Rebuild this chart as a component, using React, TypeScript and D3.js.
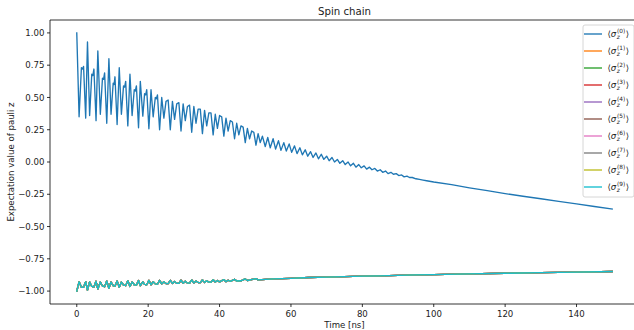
import React from 'react';
import * as d3 from 'd3';

// Time [ns] and <sigma_z^(0)> (extrema and turning points)
const site0Time = [
  0, 0.65, 1.3, 1.6, 1.9, 2.5, 3.0, 3.6, 4.2, 4.5, 4.8, 5.4, 5.9, 6.6, 7.2, 7.5, 7.8, 8.4, 9.0, 9.6,
  10.2, 10.45, 10.7, 11.3, 11.9, 12.5, 13.1, 13.4, 13.7, 14.3, 14.9, 15.5, 16.1, 16.4, 16.7, 17.3, 17.8, 18.5, 19.0, 19.3,
  19.6, 20.2, 20.8, 21.4, 22.0, 22.3, 22.6, 23.2, 23.8, 24.4, 25.0, 25.6, 26.2, 26.8, 27.4, 28.0, 28.6, 29.2, 29.8, 30.4,
  31.0, 31.6, 32.2, 32.8, 33.4, 34.0, 34.6, 35.2, 35.8, 36.4, 37.0, 37.6, 38.2, 38.8, 39.4, 40.0, 40.6, 41.2, 41.8, 42.4,
  43.0, 43.6, 44.2, 44.8, 45.4, 46.0, 46.6, 47.2, 47.8, 48.4, 49.0, 49.6, 50.2, 50.8, 51.4, 52.0, 52.8, 53.5, 54.2, 55.0,
  55.7, 56.5, 57.2, 58.0, 58.7, 59.5, 60.2, 61.0, 61.7, 62.5, 63.2, 64.0, 64.7, 65.5, 66.2, 67.0, 67.7, 68.5, 69.2, 70.0,
  70.7, 71.5, 72.2, 73.0, 73.7, 74.5, 75.2, 76.0, 76.7, 77.5, 78.2, 79.0, 79.7, 80.5, 81.2, 82.0, 82.7, 83.5, 84.2, 85.0,
  85.7, 86.5, 87.2, 88.0, 88.7, 89.5, 90.2, 91.0, 91.7, 92.5, 93.2, 94.0, 95.0, 96.0, 97.0, 98.0, 100, 105, 110, 115,
  120, 125, 130, 135, 140, 145, 150,
];
const site0Values = [
  1.0, 0.35, 0.73, 0.72, 0.74, 0.34, 0.93, 0.36, 0.68, 0.67, 0.72, 0.32, 0.86, 0.37, 0.65, 0.64, 0.69, 0.30, 0.80, 0.37,
  0.61, 0.60, 0.66, 0.29, 0.73, 0.37, 0.59, 0.58, 0.625, 0.28, 0.68, 0.36, 0.56, 0.55, 0.59, 0.265, 0.625, 0.355, 0.53, 0.52,
  0.56, 0.257, 0.56, 0.35, 0.50, 0.49, 0.52, 0.25, 0.50, 0.34, 0.47, 0.48, 0.25, 0.47, 0.33, 0.45, 0.46, 0.24, 0.45, 0.32,
  0.43, 0.44, 0.23, 0.43, 0.30, 0.41, 0.41, 0.22, 0.40, 0.28, 0.38, 0.38, 0.21, 0.37, 0.26, 0.36, 0.35, 0.20, 0.34, 0.24,
  0.32, 0.31, 0.18, 0.30, 0.21, 0.28, 0.27, 0.15, 0.26, 0.18, 0.24, 0.23, 0.13, 0.22, 0.15, 0.20, 0.12, 0.19, 0.11, 0.18,
  0.10, 0.165, 0.09, 0.15, 0.085, 0.14, 0.075, 0.125, 0.065, 0.11, 0.055, 0.095, 0.045, 0.08, 0.035, 0.07, 0.025, 0.06, 0.02, 0.045,
  0.01, 0.035, 0.0, 0.02, -0.01, 0.01, -0.02, 0.0, -0.03, -0.01, -0.04, -0.02, -0.045, -0.03, -0.055, -0.04, -0.06, -0.05, -0.07, -0.06,
  -0.08, -0.07, -0.09, -0.08, -0.095, -0.09, -0.105, -0.10, -0.115, -0.11, -0.12, -0.12, -0.13, -0.135, -0.14, -0.145, -0.155, -0.175, -0.20, -0.222,
  -0.245, -0.265, -0.285, -0.305, -0.325, -0.345, -0.364,
];

// Sites 1..9 overlap each other in the picture: one shared reading
const otherSitesTime = [
  0, 0.65, 1.3, 1.9, 2.5, 3.0, 3.6, 4.2, 4.8, 5.4, 5.9, 6.6, 7.2, 7.8, 8.4, 9.0, 9.6, 10.2, 10.7, 11.3,
  11.9, 12.5, 13.1, 13.7, 14.3, 14.9, 15.5, 16.1, 16.7, 17.3, 17.8, 18.5, 19.0, 19.6, 20.2, 20.8, 21.4, 22.0, 22.6, 23.2,
  23.8, 24.4, 25.0, 25.6, 26.2, 26.8, 27.4, 28.0, 28.6, 29.2, 29.8, 30.4, 31.0, 31.6, 32.2, 32.8, 33.4, 34.0, 34.6, 35.2,
  35.8, 36.4, 37.0, 37.6, 38.2, 38.8, 39.4, 40.0, 41.2, 41.8, 42.4, 43.0, 44.2, 44.8, 46.0, 47.2, 47.8, 50.2, 50.8, 55,
  60, 65, 70, 75, 80, 85, 90, 95, 100, 110, 120, 130, 140, 150,
];
const otherSitesValues = [
  -1.0, -0.928, -0.970, -0.971, -0.927, -0.992, -0.929, -0.964, -0.969, -0.924, -0.984, -0.930, -0.961, -0.966, -0.922, -0.978, -0.930, -0.957, -0.962, -0.921,
  -0.970, -0.930, -0.954, -0.958, -0.920, -0.964, -0.929, -0.951, -0.954, -0.918, -0.958, -0.928, -0.948, -0.951, -0.917, -0.951, -0.928, -0.944, -0.947, -0.917,
  -0.944, -0.927, -0.941, -0.942, -0.917, -0.941, -0.926, -0.939, -0.940, -0.916, -0.939, -0.924, -0.937, -0.938, -0.914, -0.937, -0.922, -0.934, -0.934, -0.913,
  -0.933, -0.920, -0.931, -0.931, -0.912, -0.930, -0.918, -0.929, -0.911, -0.927, -0.916, -0.924, -0.909, -0.922, -0.920, -0.906, -0.918, -0.903, -0.913, -0.905,
  -0.901, -0.895, -0.892, -0.888, -0.884, -0.882, -0.878, -0.874, -0.872, -0.867, -0.862, -0.857, -0.853, -0.848,
];

const siteIndices = ['0', '1', '2', '3', '4', '5', '6', '7', '8', '9'];
const xTicks = [0, 20, 40, 60, 80, 100, 120, 140];
const yTicks = [-1.0, -0.75, -0.5, -0.25, 0.0, 0.25, 0.5, 0.75, 1.0];
const titleText = 'Spin chain';
const xLabel = 'Time [ns]';
const yLabel = 'Expectation value of pauli z';

const W = 634;
const H = 330;
const left = 50;
const right = 639;
const top = 20;
const bottom = 304;
const font = 'DejaVu Sans, sans-serif';
const fs = 8.6;

export default function App() {
  const x = d3.scaleLinear().domain([-7.5, 157.5]).range([left, right]);
  const y = d3.scaleLinear().domain([-1.1, 1.1]).range([bottom, top]);
  const colors = d3.schemeCategory10;

  const line = d3
    .line<[number, number]>()
    .x((d) => x(d[0]))
    .y((d) => y(d[1]));

  const site0: [number, number][] = site0Time.map((t, i) => [t, site0Values[i]]);
  const others: [number, number][] = otherSitesTime.map((t, i) => [t, otherSitesValues[i]]);

  const fmt = (v: number) => {
    const s = v.toFixed(2);
    return v < 0 ? '\u2212' + s.slice(1) : s;
  };

  const legX = 583;
  const legY = 25;
  const legW = 51;
  const legH = 172;
  const rowH = 17;

  return (
    <div style={{ position: 'fixed', left: 0, top: 0 }}>
      <svg width={W} height={H} style={{ display: 'block', background: '#fff' }}>
        <rect x={0} y={0} width={W} height={H} fill="#fff" />
        {/* lines */}
        <g fill="none" strokeWidth={1.35} strokeLinejoin="round" strokeLinecap="square">
          {siteIndices.map((s, i) => (
            <path key={s} d={line(i === 0 ? site0 : others) || ''} stroke={colors[i]} />
          ))}
        </g>
        {/* spines */}
        <g stroke="#000" strokeWidth={0.8} fill="none">
          <line x1={left} y1={top} x2={left} y2={bottom} />
          <line x1={left} y1={bottom} x2={right} y2={bottom} />
          <line x1={left} y1={top} x2={right} y2={top} />
          <line x1={right} y1={top} x2={right} y2={bottom} />
        </g>
        {/* ticks and labels */}
        <g fontFamily={font} fontSize={fs} fill="#222">
          {xTicks.map((t) => (
            <g key={t}>
              <line x1={x(t)} x2={x(t)} y1={bottom} y2={bottom + 3} stroke="#000" strokeWidth={0.8} />
              <text x={x(t)} y={bottom + 12.5} textAnchor="middle">
                {t}
              </text>
            </g>
          ))}
          {yTicks.map((t) => (
            <g key={t}>
              <line x1={left - 3} x2={left} y1={y(t)} y2={y(t)} stroke="#000" strokeWidth={0.8} />
              <text x={left - 5.5} y={y(t) + 3.1} textAnchor="end">
                {fmt(t)}
              </text>
            </g>
          ))}
          <text x={(left + right) / 2} y={327.5} textAnchor="middle">
            {xLabel}
          </text>
          <text transform={`translate(${14},${(top + bottom) / 2}) rotate(-90)`} textAnchor="middle">
            {yLabel}
          </text>
          <text x={(left + right) / 2} y={14.5} textAnchor="middle" fontSize={10.2}>
            {titleText}
          </text>
        </g>
        {/* legend */}
        <g>
          <rect x={legX} y={legY} width={legW} height={legH} rx={2} fill="#fff" fillOpacity={0.8} stroke="#ccc" strokeWidth={0.8} />
          {siteIndices.map((s, i) => {
            const cy = 34 + i * rowH;
            const tx = 607.5;
            return (
              <g key={s} fontFamily={font} fill="#222">
                <line x1={584} x2={602} y1={cy} y2={cy} stroke={colors[i]} strokeWidth={1.35} />
                <text x={tx} y={cy + 3} fontSize={fs}>
                  {'\u27E8'}
                  <tspan fontStyle="italic">{'\u03C3'}</tspan>
                </text>
                <text x={tx + 9.2} y={cy + 5} fontSize={5.8} fontStyle="italic">
                  z
                </text>
                <text x={tx + 9.6} y={cy - 0.6} fontSize={5.8}>
                  {'(' + s + ')'}
                </text>
                <text x={tx + 18.2} y={cy + 3} fontSize={fs}>
                  {'\u27E9'}
                </text>
              </g>
            );
          })}
        </g>
      </svg>
    </div>
  );
}
